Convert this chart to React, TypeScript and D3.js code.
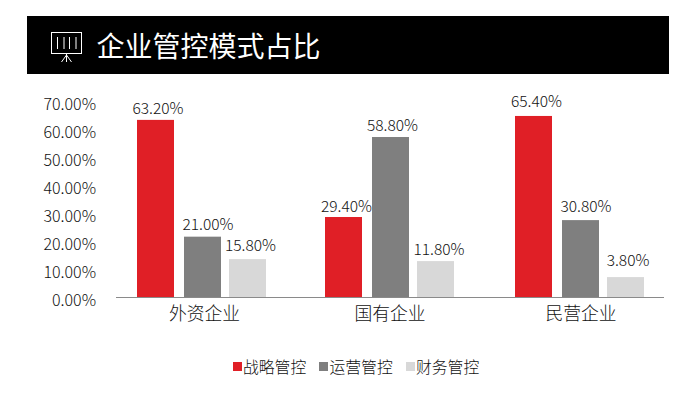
import React, { useEffect, useRef } from "react";
import * as d3 from "d3";

const categories = ["外资企业", "国有企业", "民营企业"];
const seriesNames = ["战略管控", "运营管控", "财务管控"];
// printed labels
const strategicLabels = [63.2, 29.4, 65.4];
const operationalLabels = [21.0, 58.8, 30.8];
const financialLabels = [15.8, 11.8, 3.8];
// drawn bar heights (the source's bars differ from its labels)
const strategicBars = [63.2, 28.6, 64.6];
const operationalBars = [21.6, 57.1, 27.5];
const financialBars = [13.6, 12.9, 7.2];
const seriesColors = ["#e01f26", "#7f7f7f", "#d8d8d8"];
const yTicks = [0, 10, 20, 30, 40, 50, 60, 70];
const title = "企业管控模式占比";
const FONT = "'Noto Sans CJK SC', 'Noto Sans', sans-serif";
const TEXT = "#111";

export default function App() {
  const ref = useRef<SVGSVGElement | null>(null);
  useEffect(() => {
    const svg = d3.select(ref.current);
    svg.selectAll("*").remove();
    svg.attr("font-family", FONT).attr("font-weight", 300);
    const y = d3.scaleLinear().domain([0, 70]).range([297.3, 100.8]);
    const group = d3.scaleOrdinal<number, number>().domain([0, 1, 2]).range([137, 325, 515]);
    const seriesOffset = [0, 47, 92];
    const barW = 37;
    const bars = [strategicBars, operationalBars, financialBars];
    const labels = [strategicLabels, operationalLabels, financialLabels];
    const labelDx = [[2.5, 3, 3], [5.5, 2, 5.5], [3, 3.5, 2.5]];
    const labelLift = [[6, 5.3, 9.3], [6.7, 6.3, 8.3], [8, 6, 11.3]];

    // header
    svg.append("rect").attr("x", 27).attr("y", 16).attr("width", 642).attr("height", 58).attr("fill", "#000");
    const icon = svg.append("g").attr("stroke", "#fff").attr("fill", "none").attr("stroke-width", 1);
    icon.append("rect").attr("x", 51.5).attr("y", 32.5).attr("width", 30).attr("height", 21);
    icon.append("path").attr("d", "M57.5 37V49M64 37V49M69.5 37V49M76 37V49");
    icon.append("path").attr("d", "M66.5 54V62M66.5 55L61.5 62M66.5 55L71.5 62");
    svg.append("text").attr("x", 96.5).attr("y", 56.5).attr("fill", "#fff").attr("font-size", 28).attr("font-weight", 400).text(title);

    // y ticks
    svg.append("g").selectAll("text").data(yTicks).join("text")
      .attr("x", 96).attr("y", (d) => y(d) + 9).attr("text-anchor", "end")
      .attr("font-size", 16).attr("fill", TEXT).text((d) => d.toFixed(2) + "%");

    // bars and labels
    bars.forEach((vals, s) => {
      const g = svg.append("g");
      g.selectAll("rect").data(vals).join("rect")
        .attr("x", (_, i) => (group(i) as number) + seriesOffset[s])
        .attr("y", (d) => y(d)).attr("width", barW)
        .attr("height", (d) => y(0) - y(d)).attr("fill", seriesColors[s]);
      g.selectAll("text").data(labels[s]).join("text")
        .attr("x", (_, i) => (group(i) as number) + seriesOffset[s] + barW / 2 + labelDx[s][i])
        .attr("y", (_, i) => y(vals[i]) - labelLift[s][i]).attr("text-anchor", "middle")
        .attr("font-size", 15.5).attr("fill", TEXT).text((d) => d.toFixed(2) + "%");
    });

    // axis
    svg.append("line").attr("x1", 116).attr("x2", 664).attr("y1", 297.5).attr("y2", 297.5)
      .attr("stroke", "#8a8a8a").attr("stroke-width", 1);
    const catDx = [67.5, 65, 66];
    svg.append("g").selectAll("text").data(categories).join("text")
      .attr("x", (_, i) => (group(i) as number) + catDx[i]).attr("y", 320).attr("text-anchor", "middle")
      .attr("font-size", 17.8).attr("fill", TEXT).text((d) => d);

    // legend
    const legendX = [233, 319, 406];
    const legendTextX = [243, 329.5, 416];
    seriesNames.forEach((n, i) => {
      svg.append("rect").attr("x", legendX[i]).attr("y", 362).attr("width", 9).attr("height", 9).attr("fill", seriesColors[i]);
      svg.append("text").attr("x", legendTextX[i]).attr("y", 373).attr("font-size", 15.8)
        .attr("fill", TEXT).text(n);
    });
  }, []);
  return (
    <svg ref={ref} width={694} height={395} viewBox="0 0 694 395"
      style={{ position: "absolute", left: 0, top: 0, background: "#fff" }} />
  );
}
